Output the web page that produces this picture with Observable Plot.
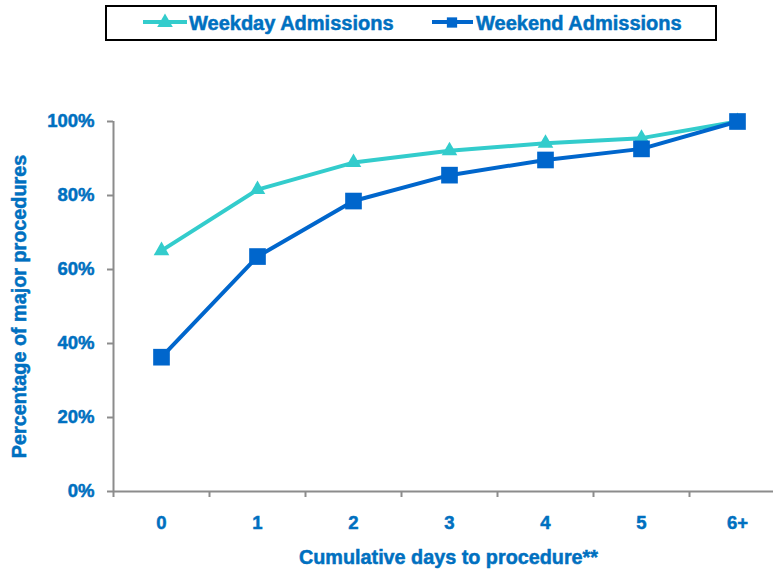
<!DOCTYPE html>
<html><head><meta charset="utf-8">
<script src="https://cdn.jsdelivr.net/npm/d3@7"></script>
<script src="https://cdn.jsdelivr.net/npm/@observablehq/plot@0.6"></script>
<style>
body{margin:0;background:#fff;font-family:"Liberation Sans",Arial,sans-serif;}
#wrap{position:relative;width:775px;height:573px;overflow:hidden;}
#chart{position:absolute;left:0;top:0;}
#legend{position:absolute;left:0;top:0;}
#wrap text{stroke:#0070C0;stroke-width:0.5px;}
</style></head><body>
<div id="wrap"><div id="chart"></div><svg id="legend" width="775" height="48"></svg></div>
<script>
const categories = ["0", "1", "2", "3", "4", "5", "6+"];
const seriesNames = ["Weekday Admissions", "Weekend Admissions"];
const weekday = [65.1, 81.6, 88.9, 92.1, 94.1, 95.5, 100];
const weekend = [36.3, 63.5, 78.5, 85.5, 89.6, 92.6, 100];
const yTicks = [0, 20, 40, 60, 80, 100];
const xTitle = "Cumulative days to procedure**";
const yTitle = "Percentage of major procedures";

const colors = ["#33CCCC", "#0066CC"];
const textColor = "#0070C0";
const axisColor = "#8c8c8c";
const font = '"Liberation Sans", Arial, sans-serif';

const rows = s => s.map((v, i) => ({i, v, cat: categories[i]}));
const n = categories.length;

const plot = Plot.plot({
  width: 775, height: 573,
  marginTop: 121, marginBottom: 82, marginLeft: 113, marginRight: 2,
  style: {fontFamily: font, background: "transparent", overflow: "hidden"},
  x: {type: "linear", domain: [-0.5, n - 0.5], range: [113, 785]},
  y: {domain: [0, 100]},
  marks: [
    Plot.axisY({ticks: yTicks, tickFormat: d => d + "%", tickSize: 6, tickPadding: 13,
      stroke: axisColor, strokeWidth: 2, fill: textColor, fontSize: 18.5, fontWeight: "bold", label: null}),
    Plot.axisX({ticks: d3.range(n + 1).map(k => k - 0.5), tickSize: 6, tickFormat: () => "",
      stroke: axisColor, strokeWidth: 2, label: null}),
    Plot.axisX({ticks: d3.range(n), tickSize: 0, tickPadding: 24, tickFormat: i => categories[i],
      fill: textColor, fontSize: 18.5, fontWeight: "bold", label: null}),
    Plot.ruleY([0], {stroke: axisColor, strokeWidth: 2}),
    Plot.ruleX([-0.5], {stroke: axisColor, strokeWidth: 2}),
    Plot.line(rows(weekday), {x: "i", y: "v", stroke: colors[0], strokeWidth: 4}),
    Plot.dot(rows(weekday), {x: "i", y: "v", symbol: "triangle", r: 5.8, fill: colors[0]}),
    Plot.line(rows(weekend), {x: "i", y: "v", stroke: colors[1], strokeWidth: 4}),
    Plot.dot(rows(weekend), {x: "i", y: "v", symbol: "square", r: 9.4, fill: colors[1]}),
    Plot.text([xTitle], {text: d => d, frameAnchor: "bottom", dx: 5, dy: 66, fill: textColor,
      fontSize: 19.8, fontWeight: "bold", lineAnchor: "middle"}),
    Plot.text([yTitle], {text: d => d, frameAnchor: "left", dx: -94, rotate: -90, fill: textColor,
      fontSize: 19.8, fontWeight: "bold", lineAnchor: "middle", textAnchor: "middle"})
  ]
});
document.getElementById("chart").appendChild(plot);

// Legend
const lg = d3.select("#legend");
lg.append("rect").attr("x", 106).attr("y", 6).attr("width", 610).attr("height", 34)
  .attr("fill", "#fff").attr("stroke", "#000").attr("stroke-width", 2);
const items = [
  {name: seriesNames[0], color: colors[0], sym: d3.symbolTriangle, size: Math.PI * 5.8 * 5.8, x1: 143, x2: 187, cx: 165, tx: 189},
  {name: seriesNames[1], color: colors[1], sym: d3.symbolSquare, size: Math.PI * 5.8 * 5.8, x1: 432, x2: 473, cx: 452, tx: 476}
];
for (const it of items) {
  lg.append("line").attr("x1", it.x1).attr("x2", it.x2).attr("y1", 22).attr("y2", 22)
    .attr("stroke", it.color).attr("stroke-width", 4);
  lg.append("path").attr("d", d3.symbol(it.sym, it.size)()).attr("transform", `translate(${it.cx},22.5)`)
    .attr("fill", it.color);
  lg.append("text").attr("x", it.tx).attr("y", 29.5).attr("fill", textColor)
    .attr("font-family", font).attr("font-size", 20).attr("font-weight", "bold").text(it.name);
}
</script>
</body></html>
